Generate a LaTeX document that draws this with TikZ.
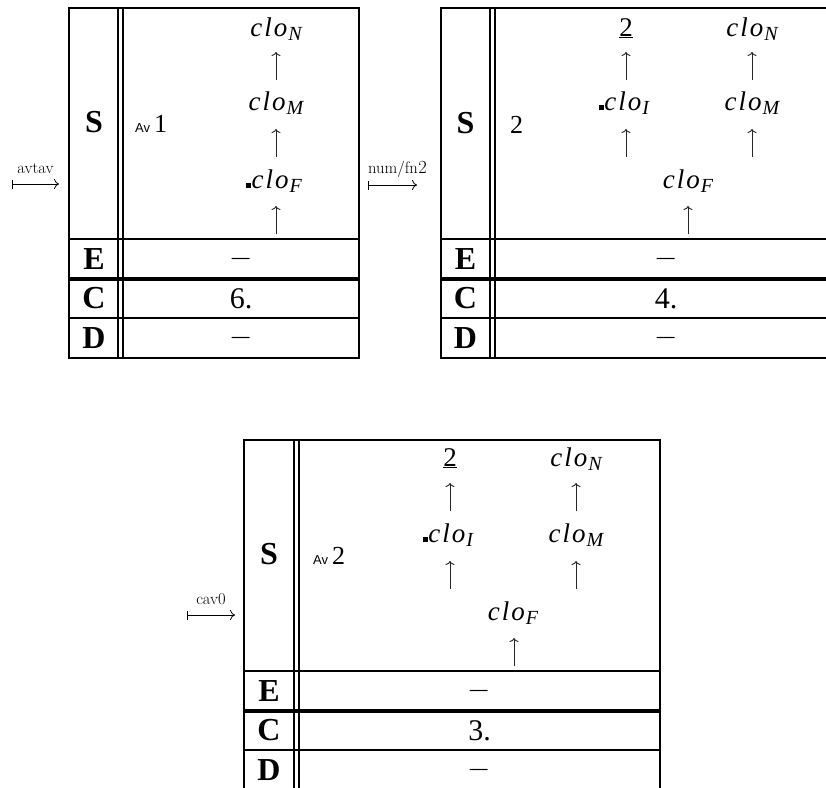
\RequirePackage{fix-cm}
\documentclass[tikz,border=0pt]{standalone}
\usepackage{fontspec}
\newfontfamily\tms{Liberation Serif}
\newfontfamily\avfont{Liberation Sans}
\usetikzlibrary{arrows.meta}
\newcommand{\mclo}[1]{{\tms\fontsize{27}{30}\selectfont\itshape c\kern2pt l\kern2pt o\kern1pt\raisebox{-4.5pt}{\fontsize{20}{22}\selectfont #1}}}
\newcommand{\msq}{\rule{5pt}{5pt}\hspace{0.5pt}}
\newcommand{\mtable}[4]{%
  \draw[tline] (#1,#4) rectangle (#3,{#4+350});
  \draw[tline] (#2,#4) -- (#2,{#4+350});
  \draw[tline] ({#2+5},#4) -- ({#2+5},{#4+350});
  \draw[tline] (#1,{#4+231}) -- (#3,{#4+231});
  \draw[tthick] (#1,{#4+271}) -- (#3,{#4+271});
  \draw[tline] (#1,{#4+310}) -- (#3,{#4+310});
}
% vertical "up" arrow between two named coordinates
\newcommand{\uparw}[3]{%
  \coordinate (#1a) at (#2,{#3+14});
  \coordinate (#1b) at (#2,{#3-14});
  \draw[upl] (#1a) -- (#1b);
}
\begin{document}
\begin{tikzpicture}[x=1pt,y=-1pt,
  tline/.style={line width=2.3pt},
  tthick/.style={line width=3.2pt},
  rowlab/.style={inner sep=0pt,font=\tms\fontsize{32}{36}\selectfont\bfseries},
  val/.style={inner sep=0pt,font=\tms\fontsize{30}{34}\selectfont},
  dashv/.style={inner sep=0pt,font=\fontsize{30}{34}\selectfont},
  upl/.style={line width=0.9pt,draw=black!85,-{To[length=4pt,width=9pt]}},
  cl/.style={inner sep=0pt,anchor=base},
  snum/.style={inner sep=0pt,anchor=base west},
  alab/.style={inner sep=0pt,anchor=base,font=\fontsize{16.5}{18}\selectfont},
  mto/.style={line width=0.8pt,arrows={Bar[width=9pt]-To[length=5pt,width=10pt]}}]
\useasboundingbox (0,0) rectangle (826,787);
\clip (0,0) rectangle (826,787);

% ---------- Table 1 ----------
\mtable{69}{118}{359}{8}
\node[rowlab,anchor=base] (s1) at (94,132) {S};
\node[rowlab] (e1) at (94,259) {E};
\node[rowlab] (c1) at (94,298.5) {C};
\node[rowlab] (d1) at (94,338) {D};
\node[snum] (n1) at (135,132) {{\avfont\fontsize{13}{15}\selectfont Av}\hspace{4pt}{\tms\fontsize{26}{30}\selectfont 1}};
\node[cl] (t1a) at (276,36) {\mclo{N}};
\uparw{t1u1}{276}{66}
\node[cl] (t1b) at (276,110) {\mclo{M}};
\uparw{t1u2}{276}{143}
\node[cl] (t1c) at (274,188) {\msq\mclo{F}};
\uparw{t1u3}{276}{220}
\node[dashv] (e1v) at (241,259) {$-$};
\node[val] (c1v) at (241,298.5) {6.};
\node[dashv] (d1v) at (241,338) {$-$};

% ---------- Table 2 ----------
\mtable{441}{490}{837}{8}
\node[rowlab,anchor=base] (s2) at (465.5,133) {S};
\node[rowlab] (e2) at (465.5,259) {E};
\node[rowlab] (c2) at (465.5,298.5) {C};
\node[rowlab] (d2) at (465.5,338) {D};
\node[snum] (n2) at (510,133) {\tms\fontsize{26}{30}\selectfont 2};
\node[cl,font=\tms\fontsize{27}{30}\selectfont] (t2x) at (626,36) {\underline{2}};
\node[cl] (t2a) at (752,36) {\mclo{N}};
\uparw{t2u1}{626}{66}
\uparw{t2u2}{752}{66}
\node[cl] (t2i) at (624,110) {\msq\mclo{I}};
\node[cl] (t2b) at (752,110) {\mclo{M}};
\uparw{t2u3}{626}{143}
\uparw{t2u4}{752}{143}
\node[cl] (t2c) at (688,188) {\mclo{F}};
\uparw{t2u5}{688}{220}
\node[dashv] (e2v) at (666,259) {$-$};
\node[val] (c2v) at (666,298.5) {4.};
\node[dashv] (d2v) at (666,338) {$-$};

% ---------- Table 3 ----------
\mtable{244}{294}{660}{440}
\node[rowlab,anchor=base] (s3) at (269,564) {S};
\node[rowlab] (e3) at (269,691) {E};
\node[rowlab] (c3) at (269,730.5) {C};
\node[rowlab] (d3) at (269,770) {D};
\node[snum] (n3) at (313,564) {{\avfont\fontsize{13}{15}\selectfont Av}\hspace{4pt}{\tms\fontsize{26}{30}\selectfont 2}};
\node[cl,font=\tms\fontsize{27}{30}\selectfont] (t3x) at (450,466) {\underline{2}};
\node[cl] (t3a) at (576,466) {\mclo{N}};
\uparw{t3u1}{450}{497}
\uparw{t3u2}{576}{497}
\node[cl] (t3i) at (448,542) {\msq\mclo{I}};
\node[cl] (t3b) at (576,542) {\mclo{M}};
\uparw{t3u3}{450}{575}
\uparw{t3u4}{576}{575}
\node[cl] (t3c) at (513,620) {\mclo{F}};
\uparw{t3u5}{514}{652}
\node[dashv] (e3v) at (479.5,691) {$-$};
\node[val] (c3v) at (479.5,730.5) {3.};
\node[dashv] (d3v) at (479.5,770) {$-$};

% ---------- transition arrows ----------
\coordinate (m1a) at (12,184);
\coordinate (m1b) at (59,184);
\draw[mto] (m1a) -- (m1b);
\node[alab] (m1l) at (35.5,173) {avtav};

\coordinate (m2a) at (368,185);
\coordinate (m2b) at (417,185);
\draw[mto] (m2a) -- (m2b);
\node[alab] (m2l) at (393,173) {num/fn};
\node[snum,font=\fontsize{18.5}{20}\selectfont] (m2s) at (m2l.base east) {2};

\coordinate (m3a) at (187,615);
\coordinate (m3b) at (235,615);
\draw[mto] (m3a) -- (m3b);
\node[alab] (m3l) at (211,604) {cav0};
\end{tikzpicture}
\end{document}
